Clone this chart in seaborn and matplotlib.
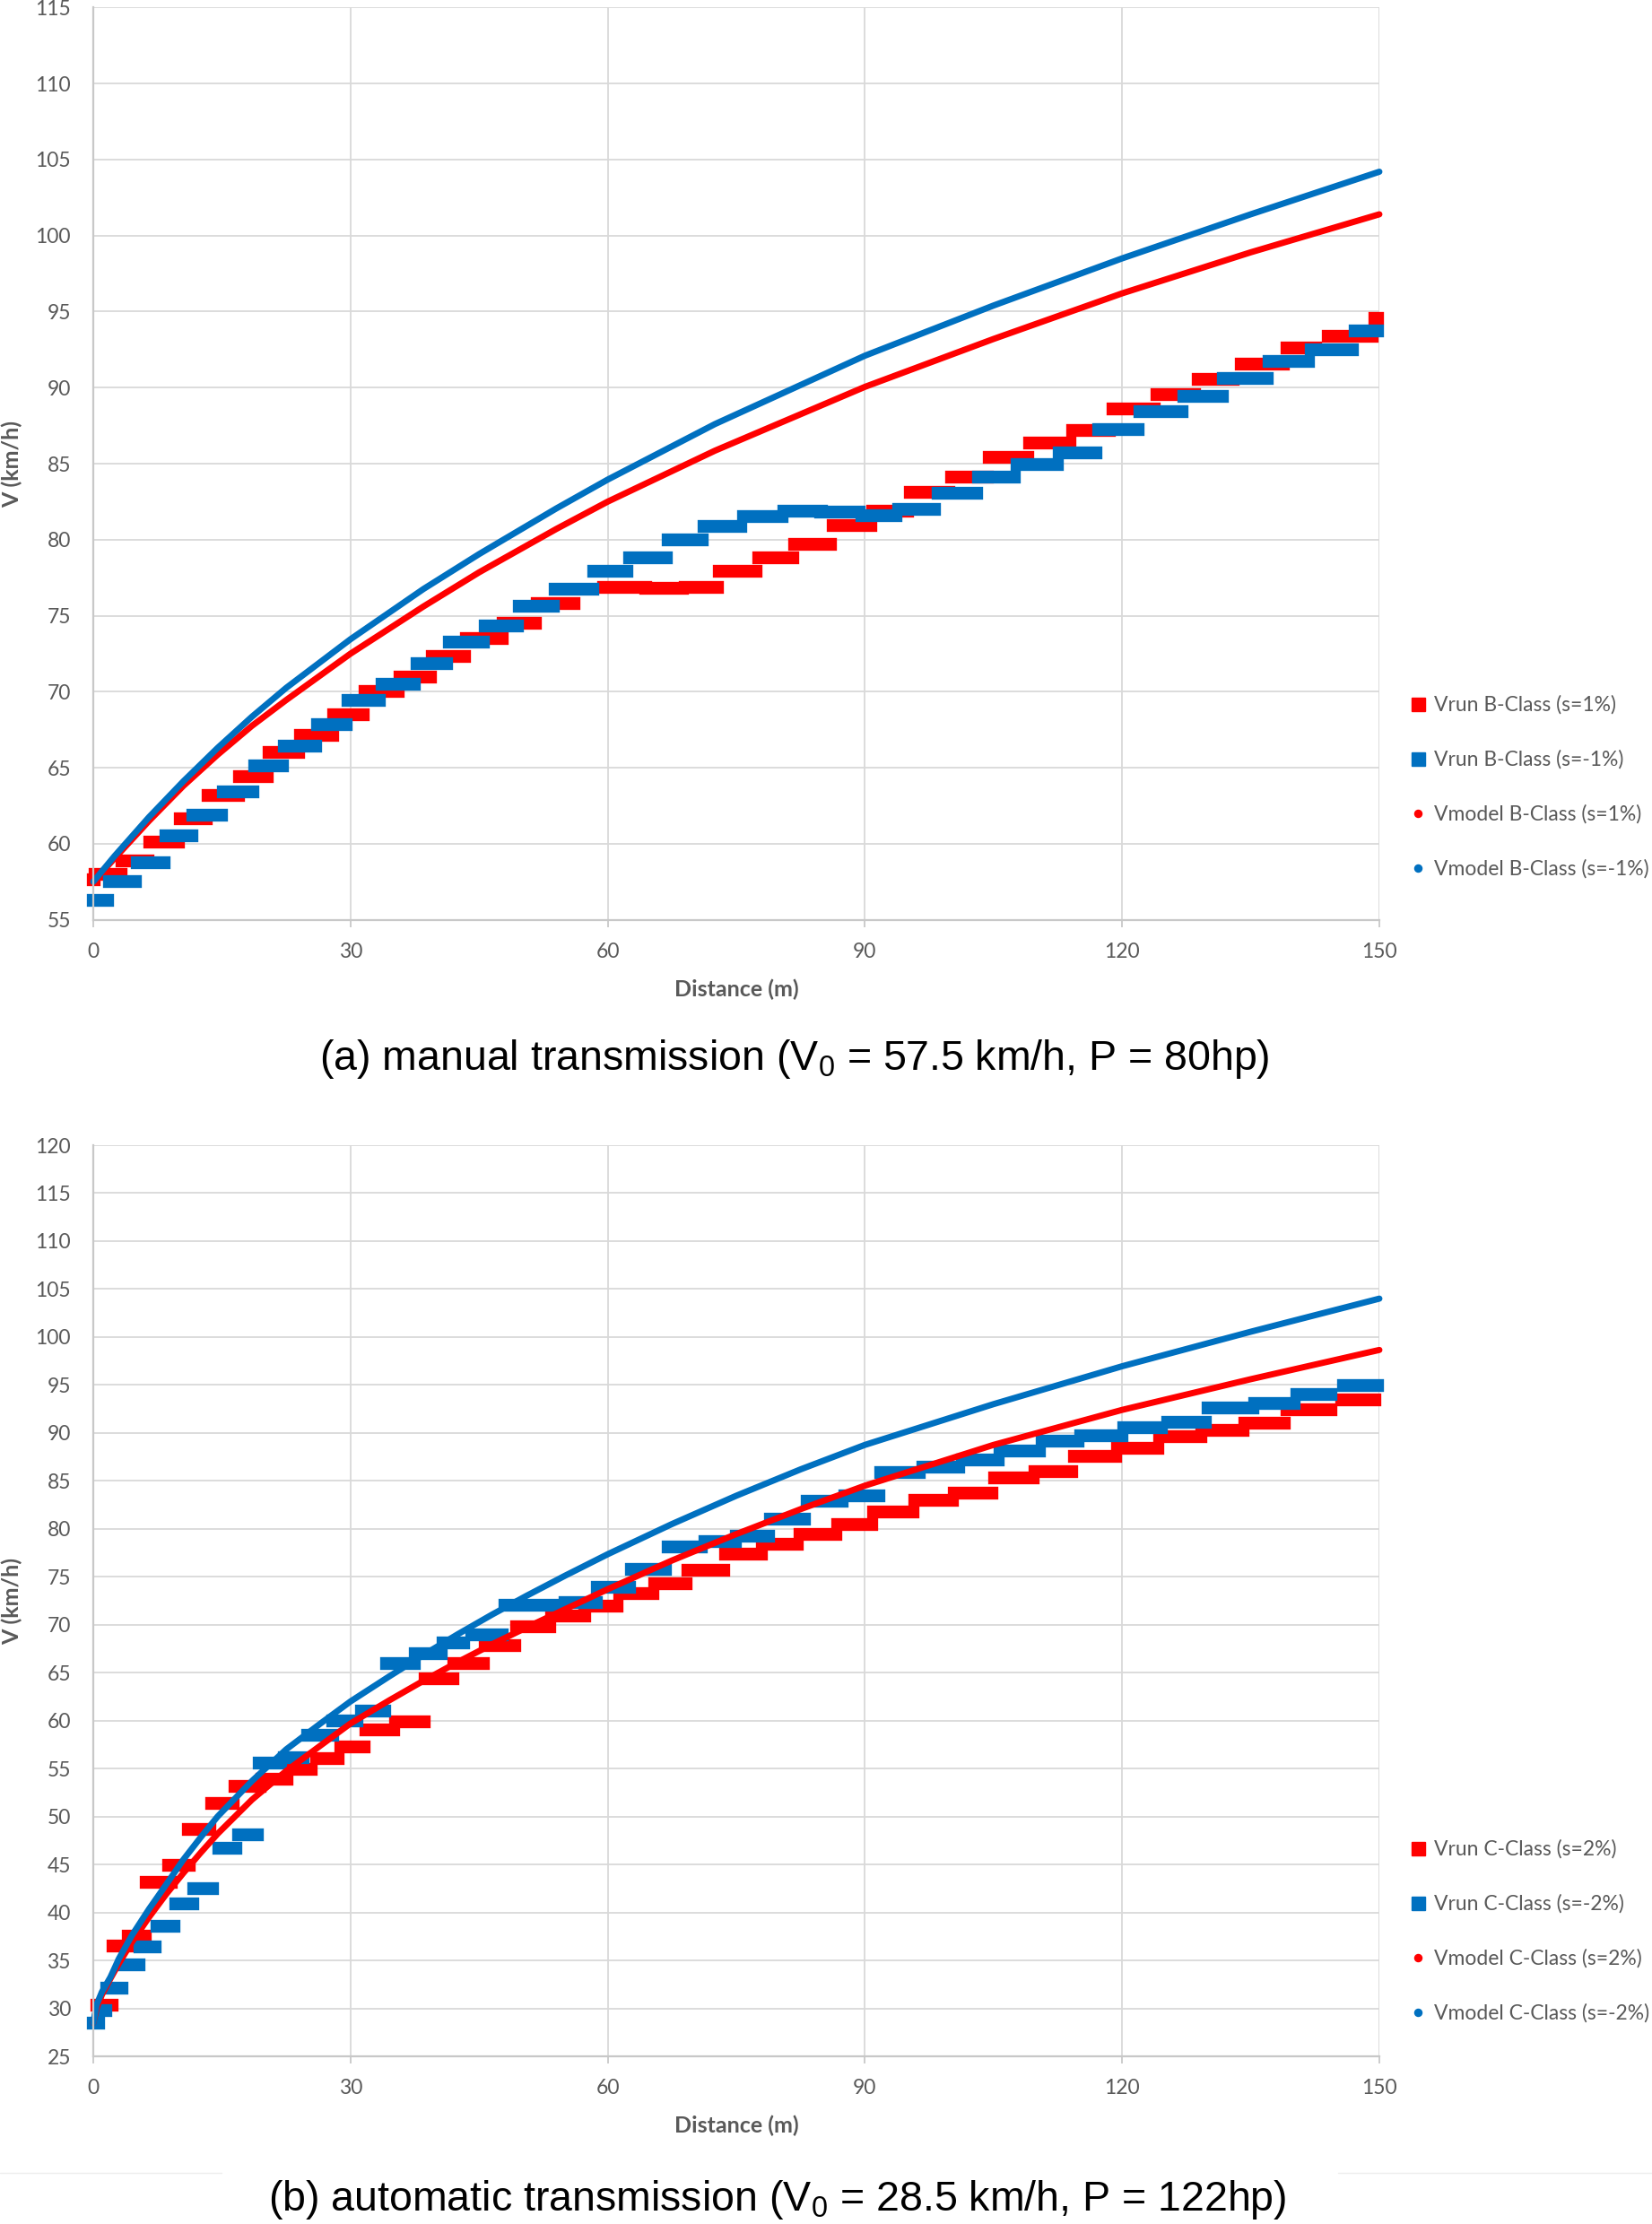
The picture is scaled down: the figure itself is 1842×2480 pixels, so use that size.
import matplotlib
matplotlib.use("Agg")
import matplotlib.pyplot as plt
from matplotlib.lines import Line2D
import pandas as pd
import seaborn as sns

# ---- data ----
# measured runs: one (start m, end m, speed km/h) per speed step
a_run_s1 = [(0.0, 0.1, 57.66), (0.25, 3.25, 58.0), (3.3, 6.4, 58.85), (6.6, 9.95, 60.1),
            (10.1, 13.2, 61.65), (13.35, 16.9, 63.2), (17.1, 20.3, 64.4), (20.5, 24.0, 66.0),
            (24.15, 27.9, 67.15), (28.05, 31.45, 68.5), (31.65, 35.55, 70.0), (35.75, 39.35, 70.95),
            (39.55, 43.35, 72.3), (43.55, 47.65, 73.5), (47.85, 51.55, 74.5), (51.75, 56.05, 75.8),
            (59.55, 64.45, 76.85), (64.45, 68.75, 76.8), (69.05, 72.85, 76.85), (73.05, 77.35, 77.9),
            (77.65, 81.55, 78.8), (81.85, 85.95, 79.7), (86.25, 90.65, 80.95), (90.95, 94.95, 81.9),
            (95.25, 99.75, 83.1), (100.15, 104.25, 84.1), (104.55, 108.95, 85.4), (109.25, 113.95, 86.35),
            (114.25, 118.55, 87.2), (118.95, 123.75, 88.6), (124.05, 128.45, 89.55), (128.85, 132.95, 90.55),
            (133.85, 138.85, 91.55), (139.25, 142.55, 92.6), (144.05, 149.15, 93.35), (149.45, 149.75, 94.55)]
a_run_sm1 = [(0.0, 1.7, 56.3), (1.85, 4.9, 57.5), (5.1, 8.3, 58.75), (8.5, 11.5, 60.55),
             (11.6, 14.95, 61.9), (15.15, 18.65, 63.4), (18.8, 22.05, 65.15), (22.25, 25.95, 66.4),
             (26.15, 29.55, 67.85), (29.75, 33.35, 69.4), (33.65, 37.45, 70.5), (37.75, 41.25, 71.85),
             (41.55, 45.55, 73.25), (45.75, 49.45, 74.35), (49.65, 53.65, 75.65), (53.85, 58.25, 76.75),
             (58.35, 62.25, 77.9), (62.55, 66.85, 78.8), (67.05, 71.05, 80.0), (71.25, 75.55, 80.85),
             (75.85, 80.35, 81.5), (80.55, 84.95, 81.9), (84.85, 89.35, 81.8), (89.65, 93.65, 81.55),
             (93.95, 98.15, 82.0), (98.55, 103.05, 83.05), (103.25, 107.45, 84.1), (107.75, 112.45, 84.95),
             (112.65, 116.95, 85.7), (117.25, 121.85, 87.25), (122.05, 126.95, 88.4), (127.15, 131.65, 89.4),
             (131.85, 136.95, 90.6), (137.15, 141.75, 91.7), (142.05, 146.85, 92.5), (147.15, 149.75, 93.75)]

b_run_s2 = [(0.45, 2.15, 30.35), (2.3, 5.0, 36.5), (4.05, 6.05, 37.55), (6.2, 9.05, 43.1),
            (8.75, 11.2, 44.95), (11.05, 13.65, 48.65), (13.8, 16.3, 51.4), (16.55, 19.45, 53.1),
            (19.65, 22.55, 53.85), (23.3, 25.45, 54.9), (26.0, 28.55, 56.0), (28.85, 31.55, 57.3),
            (31.8, 35.0, 59.0), (35.25, 38.55, 59.85), (38.7, 41.9, 64.4), (42.05, 45.55, 65.95),
            (45.75, 49.15, 67.8), (49.35, 53.25, 69.8), (53.4, 57.3, 70.9), (57.35, 61.1, 71.9),
            (61.45, 65.25, 73.25), (65.45, 69.1, 74.25), (69.35, 73.55, 75.65), (73.75, 77.9, 77.4),
            (78.05, 82.15, 78.35), (82.45, 86.6, 79.4), (86.8, 90.8, 80.45), (91.05, 95.65, 81.75),
            (95.8, 100.2, 83.0), (100.45, 104.85, 83.75), (105.1, 109.6, 85.3), (109.8, 114.1, 85.95),
            (114.4, 119.25, 87.55), (119.45, 124.15, 88.4), (124.4, 129.2, 89.6), (129.25, 134.05, 90.25),
            (134.35, 138.95, 91.05), (139.25, 144.35, 92.45), (145.65, 149.45, 93.4)]
b_run_sm2 = [(0.05, 0.65, 28.5), (0.85, 1.45, 29.8), (1.55, 3.3, 32.1), (3.35, 5.3, 34.5),
             (5.45, 7.25, 36.45), (7.45, 9.4, 38.55), (9.6, 11.65, 40.9), (11.75, 13.95, 42.5),
             (14.65, 16.65, 46.65), (16.9, 19.15, 48.1), (19.4, 21.9, 55.6), (22.25, 24.45, 56.1),
             (25.05, 27.9, 58.45), (27.95, 30.8, 60.0), (31.25, 33.95, 61.0), (34.2, 37.4, 66.0),
             (37.55, 40.6, 67.0), (40.8, 43.2, 68.15), (44.1, 47.65, 68.95), (48.0, 54.15, 72.0),
             (55.0, 58.65, 72.35), (58.8, 62.5, 73.9), (62.75, 66.7, 75.75), (67.05, 70.95, 78.15),
             (71.3, 74.85, 78.65), (74.95, 78.75, 79.25), (79.0, 83.0, 81.0), (83.25, 87.35, 82.85),
             (87.7, 91.6, 83.45), (91.85, 96.35, 85.85), (96.75, 100.95, 86.45), (101.35, 105.55, 87.2),
             (105.75, 110.4, 88.15), (110.65, 114.9, 89.15), (115.15, 119.95, 89.75), (120.2, 124.55, 90.55),
             (125.3, 129.75, 91.15), (130.05, 135.2, 92.65), (135.45, 140.05, 93.05), (140.4, 144.3, 94.05),
             (145.8, 149.8, 94.95)]

# model curves
a_model_x = [0, 2.5, 6.5, 10.5, 14.5, 18.5, 22.5, 30, 38.5, 45, 54, 60, 72.5, 90, 105, 120, 135, 150]
a_model_s1 = [57.5, 59.05, 61.5, 63.8, 65.85, 67.75, 69.45, 72.5, 75.6, 77.85, 80.7, 82.5, 85.85, 90.05,
              93.2, 96.2, 98.9, 101.4]
a_model_sm1 = [57.5, 59.2, 61.75, 64.1, 66.3, 68.35, 70.25, 73.45, 76.75, 79.05, 82.05, 83.95, 87.6, 92.1,
               95.4, 98.5, 101.4, 104.2]

b_model_x = [0, 0.4, 1, 2, 3, 4.5, 6.5, 8.5, 10.5, 12.5, 14.5, 18.5, 22.5, 26.5, 30, 34.5, 38.5, 42.5,
             46.5, 50.5, 55, 60, 67.5, 75, 82.5, 90, 105, 120, 135, 150]
b_model_s2 = [28.5, 30.0, 31.4, 33.1, 34.7, 36.9, 39.5, 41.9, 44.1, 46.2, 48.2, 51.75, 54.75, 57.4, 59.7,
              62.1, 64.15, 66.1, 67.95, 69.7, 71.6, 73.7, 76.7, 79.45, 82.05, 84.5, 88.75, 92.4, 95.6, 98.65]
b_model_sm2 = [28.5, 30.4, 31.7, 33.25, 35.2, 37.6, 40.35, 42.9, 45.5, 47.8, 50.0, 53.7, 57.0, 59.7, 62.0,
               64.6, 66.85, 69.0, 71.05, 73.0, 75.1, 77.35, 80.5, 83.45, 86.2, 88.75, 93.0, 96.95, 100.55,
               104.0]

a_labels = ["Vrun B-Class (s=1%)", "Vrun B-Class (s=-1%)", "Vmodel B-Class (s=1%)", "Vmodel B-Class (s=-1%)"]
b_labels = ["Vrun C-Class (s=2%)", "Vrun C-Class (s=-2%)", "Vmodel C-Class (s=2%)", "Vmodel C-Class (s=-2%)"]

a_caption = r"(a) manual transmission (V$_0$ = 57.5 km/h, P = 80hp)"
b_caption = r"(b) automatic transmission (V$_0$ = 28.5 km/h, P = 122hp)"

RED = "#FF0000"
BLUE = "#0070C0"
GREY = "#595959"
GRID = "#D9D9D9"

sns.set_theme(style="white")
plt.rcParams["font.family"] = ["Lato", "DejaVu Sans"]
plt.rcParams["mathtext.fontset"] = "custom"
plt.rcParams["mathtext.rm"] = "Liberation Sans"
plt.rcParams["mathtext.it"] = "Liberation Sans"


def steps_frame(steps, name):
    rows = []
    for i, (x0, x1, v) in enumerate(steps):
        rows.append((name, i, x0, v))
        rows.append((name, i, x1, v))
    return pd.DataFrame(rows, columns=["series", "step", "x", "v"])


def draw_panel(fig, ax, run_pos, run_neg, mx, m_pos, m_neg, labels, ylim, legend_y):
    runs = pd.concat([steps_frame(run_pos, labels[0]), steps_frame(run_neg, labels[1])])
    sns.lineplot(data=runs, x="x", y="v", hue="series", units="step", estimator=None,
                 palette=[RED, BLUE], lw=10.3, solid_capstyle="projecting", sort=False,
                 legend=False, ax=ax, clip_on=False)

    n = len(mx)
    model = pd.DataFrame({"x": list(mx) * 2, "v": list(m_pos) + list(m_neg),
                          "series": [labels[2]] * n + [labels[3]] * n})
    sns.lineplot(data=model, x="x", y="v", hue="series", palette=[RED, BLUE], lw=5,
                 solid_capstyle="round", legend=False, ax=ax, clip_on=False)

    ax.set_xlim(0, 150)
    ax.set_ylim(*ylim)
    ax.set_xticks(range(0, 151, 30))
    ax.set_yticks(range(ylim[0], ylim[1] + 1, 5))
    ax.grid(True, color=GRID, lw=1.3)
    ax.set_axisbelow(True)
    for s in ["top", "right"]:
        ax.spines[s].set_visible(False)
    for s in ["left", "bottom"]:
        ax.spines[s].set_color("#C8C8C8")
        ax.spines[s].set_linewidth(1.6)
    ax.tick_params(axis="x", direction="out", length=6, width=1.3, color="#C8C8C8",
                   labelsize=16.5, labelcolor=GREY, pad=12, bottom=True)
    ax.tick_params(axis="y", length=0, labelsize=16.5, labelcolor=GREY, pad=18, left=True)

    ax.set_xlabel("Distance (m)", fontsize=18, fontweight="bold", color=GREY)
    ax.set_ylabel("V (km/h)", fontsize=18, fontweight="bold", color=GREY)
    ax.xaxis.set_label_coords(0.5, -0.065)
    ax.yaxis.set_label_coords(-0.055, 0.5)

    handles = [Line2D([], [], ls="", marker="s", markersize=10.8, color=RED),
               Line2D([], [], ls="", marker="s", markersize=10.8, color=BLUE),
               Line2D([], [], ls="", marker="o", markersize=5.8, color=RED),
               Line2D([], [], ls="", marker="o", markersize=5.8, color=BLUE)]
    ax.legend(handles, labels, loc="center left", bbox_to_anchor=(0.8534, legend_y),
              bbox_transform=fig.transFigure, frameon=False, fontsize=16.5, labelcolor=GREY,
              handlelength=0.8, handletextpad=0.4, labelspacing=1.72, borderpad=0,
              borderaxespad=0)


fig = plt.figure(figsize=(18.42, 24.80), dpi=100)
ax_a = fig.add_axes([104 / 1842, 1 - 1025.6 / 2480, 1434 / 1842, 1017.2 / 2480])
ax_b = fig.add_axes([104 / 1842, 1 - 2293 / 2480, 1434 / 1842, 1016 / 2480])

draw_panel(fig, ax_a, a_run_s1, a_run_sm1, a_model_x, a_model_s1, a_model_sm1, a_labels,
           (55, 115), 1 - 877.5 / 2480)
draw_panel(fig, ax_b, b_run_s2, b_run_sm2, b_model_x, b_model_s2, b_model_sm2, b_labels,
           (25, 120), 1 - 2153.5 / 2480)

fig.text(886 / 1842, 1 - 1193 / 2480, a_caption, ha="center", va="baseline", fontsize=33.5,
         family="Liberation Sans", color="black")
fig.text(867 / 1842, 1 - 2465 / 2480, b_caption, ha="center", va="baseline", fontsize=33.5,
         family="Liberation Sans", color="black")

# faint chart-area border under panel (b), interrupted by the caption
fig.add_artist(Line2D([0, 247 / 1842], [1 - 2423 / 2480] * 2, transform=fig.transFigure,
                      color="#EDEDED", lw=1))
fig.add_artist(Line2D([1492 / 1842, 1], [1 - 2423 / 2480] * 2, transform=fig.transFigure,
                      color="#EDEDED", lw=1))

fig.savefig("out.png", dpi=100, facecolor="white")
